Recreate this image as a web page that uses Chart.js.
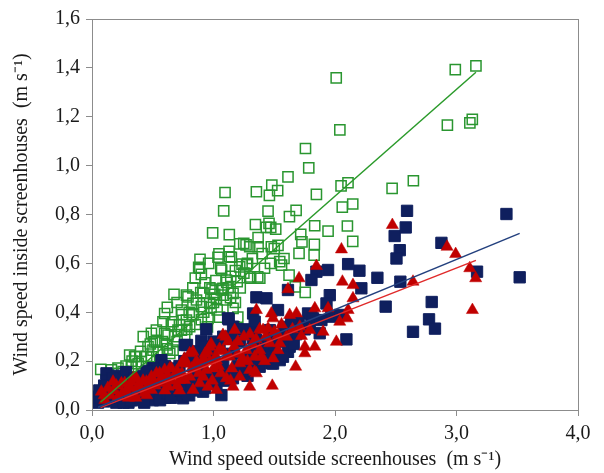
<!DOCTYPE html>
<html>
<head>
<meta charset="utf-8">
<title>Wind speed inside vs outside screenhouses</title>
<script src="https://cdn.jsdelivr.net/npm/chart.js@4.4.0/dist/chart.umd.min.js"></script>
<style>
  html, body { margin: 0; padding: 0; background: #fff; }
  #wrap { width: 604px; height: 473px; }
</style>
</head>
<body>
<div id="wrap"><canvas id="chart"></canvas></div>
<script>
// axis ticks
const xTicks = [0, 1, 2, 3, 4];
const yTicks = [0, 0.2, 0.4, 0.6, 0.8, 1.0, 1.2, 1.4, 1.6];

// series 1: open green squares [outside, inside]
const greenPts = [
  [2.01,1.359],[2.04,1.146],[2.99,1.393],[3.16,1.408],[2.925,1.166],[3.11,1.175],[3.13,1.189],
  [1.757,1.070],[1.784,0.991],[1.613,0.954],[1.48,0.920],[1.528,0.898],[1.46,0.878],[1.353,0.893],
  [1.847,0.882],[2.05,0.917],[2.107,0.930],[2.47,0.907],[2.645,0.938],[2.06,0.830],[2.146,0.843],
  [1.449,0.814],[1.68,0.817],[1.625,0.791],[1.095,0.890],[1.084,0.815],
  [0.993,0.725],[1.13,0.718],[1.216,0.680],[1.268,0.676],[1.045,0.639],[1.037,0.625],[1.128,0.649],
  [1.147,0.625],[0.889,0.616],[0.878,0.584],[0.900,0.555],[1.067,0.573],[1.216,0.586],[1.235,0.597],
  [1.273,0.594],[1.306,0.539],[1.364,0.545],[1.142,0.547],[1.109,0.522],[0.675,0.473],[0.777,0.470],
  [0.895,0.480],[0.988,0.495],[1.010,0.473],[1.078,0.498],
  [1.345,0.759],[1.457,0.764],[1.471,0.747],[1.435,0.747],[1.512,0.740],[1.833,0.754],[1.943,0.732],
  [2.102,0.753],[2.146,0.690],[1.718,0.719],[1.728,0.688],[1.830,0.678],[1.249,0.682],[1.367,0.705],
  [1.367,0.668],[1.531,0.674],[1.704,0.641],[1.828,0.634],[1.545,0.607],[1.622,0.552],[1.560,0.593],
  [1.469,0.600],[1.381,0.539],[1.755,0.481],[1.673,0.504],[1.298,0.668],[1.476,0.668],
  [0.887,0.580],[1.133,0.627],[1.298,0.545],[1.195,0.525],[1.106,0.532],[1.065,0.491],[0.914,0.477],
  [0.790,0.463],[0.598,0.395],[0.736,0.409],[0.667,0.361],[0.584,0.361],[0.530,0.327],[0.831,0.436],
  [0.900,0.423],[0.969,0.436],[1.024,0.457],[1.106,0.450],[1.161,0.477],[1.161,0.416],[0.831,0.389],
  [0.777,0.368],[0.736,0.327],[0.626,0.307],[0.530,0.279],[0.502,0.245],[0.612,0.266],[0.667,0.245],
  [0.557,0.204],[0.804,0.341],[0.955,0.375],[0.489,0.314],
  [0.422,0.300],[0.461,0.259],[0.516,0.279],[0.598,0.314],[0.653,0.348],[0.708,0.327],[0.763,0.307],
  [0.351,0.218],[0.489,0.218],[0.310,0.225],[0.406,0.198],[0.256,0.157],[0.160,0.164],[0.214,0.171],
  [0.324,0.177],[0.448,0.177],[0.502,0.164],[0.571,0.204],[0.640,0.232],[0.072,0.166],
  [0.12,0.12],[0.20,0.13],[0.27,0.12],[0.30,0.15],[0.38,0.19],[1.17,0.34],[1.20,0.38],[1.05,0.38],
  [0.85,0.54],[0.96,0.60],[1.00,0.44],
  [0.62,0.42],[0.70,0.44],[0.74,0.39],[0.80,0.40],[0.86,0.45],[0.92,0.40],[0.98,0.42],[1.03,0.41],
  [1.08,0.47],[1.12,0.50],[1.14,0.46],[1.18,0.44],[1.22,0.50],[1.25,0.56],[1.28,0.60],[0.93,0.52],
  [0.97,0.50],[1.02,0.53],[0.83,0.50],[0.72,0.35],[0.78,0.33],[0.85,0.35],[0.90,0.37],[0.95,0.34],
  [0.68,0.30],[0.58,0.28],[0.55,0.24],[0.45,0.22],[0.40,0.24],[0.36,0.22],[0.33,0.20],[0.28,0.18],
  [0.22,0.15],[0.48,0.27],[0.62,0.25],[0.70,0.28],[1.06,0.58],[1.18,0.57],[1.32,0.62],[1.40,0.64],
  [1.42,0.58],[1.50,0.66],[1.58,0.62]
];

// series 2: filled navy squares
const navyPts = [
  [2.593,0.815],[3.411,0.802],[2.582,0.747],[2.491,0.712],[2.533,0.654],[2.506,0.620],[2.876,0.684],
  [3.169,0.566],[3.520,0.543],[2.538,0.525],[2.349,0.541],[2.417,0.423],[2.796,0.442],[2.774,0.371],
  [2.823,0.333],[2.642,0.320],[2.217,0.498],[2.201,0.570],[2.108,0.597],[1.943,0.573],[1.847,0.566],
  [1.806,0.532],[1.957,0.470],[1.930,0.436],[2.094,0.289],[1.353,0.461],[1.436,0.457],[1.613,0.491],
  [1.531,0.409],[1.326,0.395],[1.806,0.389],[1.888,0.368],[1.970,0.382],[1.792,0.341],[1.874,0.314],
  [2.039,0.389],[1.339,0.314],[1.463,0.327],[1.600,0.286],[1.613,0.238],[1.545,0.204],[1.476,0.191],
  [1.380,0.177],[1.778,0.395],[1.819,0.375],[1.339,0.361],[1.298,0.314],[1.353,0.286],[1.627,0.259],
  [1.572,0.218],[1.125,0.371],[0.941,0.330],[0.782,0.266],[0.900,0.283],[0.571,0.204],[0.502,0.171],
  [1.161,0.341],[1.325,0.293],[0.749,0.048],[0.914,0.075],[1.024,0.109],[1.065,0.061],[0.612,0.089],
  [0.530,0.054],[0.763,0.266],[0.036,0.054],[0.03,0.041],[0.119,0.150],[0.20,0.14],[0.28,0.155],
  [1.12,0.375],[1.38,0.204],[1.49,0.19],
  [0.05,0.03],[0.08,0.06],[0.10,0.035],[0.12,0.09],[0.15,0.04],[0.18,0.07],[0.20,0.03],[0.22,0.10],
  [0.25,0.05],[0.28,0.08],[0.30,0.03],[0.33,0.12],[0.35,0.06],[0.38,0.04],[0.40,0.09],[0.42,0.14],
  [0.45,0.05],[0.48,0.11],[0.50,0.04],[0.55,0.07],[0.58,0.12],[0.60,0.05],[0.63,0.15],[0.66,0.08],
  [0.70,0.06],[0.72,0.18],[0.75,0.11],[0.78,0.07],[0.80,0.21],[0.84,0.13],[0.86,0.08],[0.90,0.17],
  [0.95,0.12],[0.98,0.22],[1.02,0.15],[1.05,0.26],[1.08,0.19],[1.10,0.12],[1.15,0.23],[1.18,0.16],
  [1.22,0.28],[1.25,0.20],[1.28,0.14],[1.30,0.24],[1.42,0.23],[1.45,0.28],[1.50,0.25],[1.55,0.30],
  [1.58,0.34],[1.68,0.31],[1.70,0.36],[1.66,0.27],[1.75,0.33],[1.20,0.33],[1.00,0.28],[0.88,0.24],
  [0.60,0.18],[0.45,0.16],[0.35,0.13],[0.25,0.12],
  [0.07,0.05],[0.10,0.07],[0.13,0.05],[0.16,0.08],[0.19,0.05],[0.23,0.07],[0.26,0.03],[0.29,0.06],
  [0.32,0.04],[0.36,0.08],[0.40,0.05],[0.43,0.03],[0.47,0.07],[0.52,0.06],[0.56,0.04],[0.62,0.07],
  [0.65,0.05],[0.68,0.09],[0.73,0.08],[0.80,0.06],[0.82,0.10],[0.88,0.11],[0.93,0.09],[0.97,0.14],
  [1.00,0.11],[1.04,0.13],[1.12,0.15],[1.16,0.13],[1.20,0.18],[1.24,0.16],[1.30,0.19],[1.34,0.21],
  [1.40,0.25],[1.47,0.22],[1.52,0.28],[1.60,0.32],[1.64,0.36],[0.12,0.12],[0.17,0.13],[0.30,0.10],
  [0.38,0.11],[0.52,0.14],[0.68,0.17],[0.76,0.20],[0.85,0.22],[0.93,0.26],[1.08,0.30],[1.15,0.30],
  [1.25,0.33],[0.10,0.10],[0.06,0.08]
];

// series 3: filled red triangles
const redPts = [
  [2.472,0.757],[2.922,0.668],[2.993,0.638],[3.109,0.580],[3.158,0.539],[3.131,0.409],[2.642,0.525],
  [2.053,0.657],[1.847,0.589],[1.704,0.539],[1.613,0.494],[2.061,0.525],[2.148,0.511],[2.148,0.457],
  [2.108,0.409],[2.099,0.375],[2.039,0.361],[2.011,0.279],[1.943,0.416],[1.834,0.416],[1.902,0.320],
  [1.834,0.259],[1.752,0.259],[1.752,0.232],[1.683,0.395],[1.627,0.389],[1.710,0.341],[1.792,0.327],
  [1.676,0.177],[1.484,0.099],[1.353,0.409],[1.476,0.395],[1.490,0.375],[1.531,0.307],[1.449,0.334],
  [1.545,0.273],[1.463,0.273],[1.339,0.157],[1.394,0.218],[1.408,0.327],[1.724,0.303],[1.531,0.245],
  [1.380,0.245],[1.339,0.218],[1.353,0.150],[1.490,0.211],
  [1.174,0.327],[1.078,0.307],[0.969,0.259],[0.831,0.238],[0.736,0.191],[0.653,0.170],[0.557,0.150],
  [1.270,0.245],[1.216,0.191],[1.106,0.218],[1.024,0.204],[0.941,0.164],[1.298,0.164],[1.216,0.136],
  [1.106,0.130],[0.914,0.136],[0.804,0.136],[0.722,0.123],[0.955,0.095],[0.887,0.109],[1.161,0.095],
  [1.298,0.095],[1.024,0.082],[0.831,0.082],
  [0.077,0.075],[0.173,0.116],[0.242,0.109],[0.324,0.116],[0.365,0.130],[0.448,0.116],[0.489,0.136],
  [0.598,0.164],[0.640,0.170],[0.804,0.232],[0.105,0.041],[0.214,0.054],[0.351,0.061],[0.489,0.082],
  [0.626,0.095],[0.763,0.123],
  [0.15,0.06],[0.28,0.08],[0.40,0.09],[0.55,0.11],[0.68,0.14],[0.85,0.18],[0.92,0.21],[1.00,0.17],
  [1.05,0.25],[1.12,0.28],[1.20,0.23],[1.25,0.30],[0.98,0.27],[0.78,0.19],[0.60,0.12],[0.43,0.07],
  [0.30,0.05],[0.52,0.10],[0.70,0.10],[0.88,0.15],[1.15,0.17],[1.32,0.27],[1.42,0.20],[0.95,0.24],
  [1.10,0.30],
  [0.10,0.06],[0.13,0.09],[0.18,0.08],[0.20,0.10],[0.25,0.07],[0.27,0.11],[0.32,0.09],[0.34,0.13],
  [0.38,0.10],[0.42,0.12],[0.45,0.09],[0.50,0.12],[0.53,0.15],[0.57,0.13],[0.62,0.14],[0.66,0.12],
  [0.70,0.16],[0.74,0.15],[0.76,0.21],[0.82,0.17],[0.86,0.20],[0.90,0.19],[0.93,0.23],[0.97,0.20],
  [1.02,0.22],[1.04,0.18],[1.08,0.24],[1.13,0.22],[1.17,0.26],[1.20,0.28],[1.24,0.21],[1.28,0.20],
  [1.30,0.31],[1.35,0.29],[1.38,0.33],[1.43,0.30],[1.50,0.32],[1.56,0.35],[1.60,0.30],[1.65,0.33],
  [0.99,0.12],[1.06,0.15],[1.14,0.12],[0.60,0.08],[0.72,0.08],[0.45,0.06],[0.36,0.05]
];

// linear fits: y = slope * x + intercept, drawn over [xFrom, xTo]
const fitSlope = [0.437, 0.205, 0.195];
const fitIntercept = [0.001, 0.001, -0.004];
const fitFrom = [0.07, 0.05, 0.07];
const fitTo = [3.16, 3.52, 3.16];

const GREEN = '#2a9630';
const NAVY = '#0f1f5e';
const RED = '#c00000';
const lineColors = ['#2a9a2a', '#23407e', '#e02a2a'];

const toXY = pts => pts.map(p => ({ x: p[0], y: p[1] }));
const fitLine = i => [fitFrom[i], fitTo[i]].map(x => ({ x: x, y: fitSlope[i] * x + fitIntercept[i] }));
const comma = v => Number(v).toFixed(1).replace('.', ',');

const SERIF = "'Liberation Serif', 'Times New Roman', serif";

// grey frame round the plot area
const frame = {
  id: 'frame',
  afterDatasetsDraw(chart) {
    const a = chart.chartArea;
    const ctx = chart.ctx;
    ctx.save();
    ctx.strokeStyle = '#8c8c8c';
    ctx.lineWidth = 1;
    ctx.strokeRect(Math.round(a.left) + 0.5, Math.round(a.top) + 0.5,
      Math.round(a.right - a.left), Math.round(a.bottom - a.top));
    ctx.restore();
  }
};

const lineDs = (i) => ({
  type: 'line',
  data: fitLine(i),
  borderColor: lineColors[i],
  borderWidth: 1.5,
  pointRadius: 0,
  fill: false,
  order: 0
});

new Chart(document.getElementById('chart'), {
  type: 'scatter',
  data: {
    datasets: [
      lineDs(0), lineDs(1), lineDs(2),
      {
        label: 'red',
        data: toXY(redPts),
        pointStyle: 'triangle',
        pointRadius: 7,
        backgroundColor: RED,
        borderColor: RED,
        borderWidth: 0.5,
        order: 1
      },
      {
        label: 'navy',
        data: toXY(navyPts),
        pointStyle: 'rect',
        pointRadius: 8,
        backgroundColor: NAVY,
        borderColor: NAVY,
        borderWidth: 1,
        order: 2
      },
      {
        label: 'green',
        data: toXY(greenPts),
        pointStyle: 'rect',
        pointRadius: 7.2,
        backgroundColor: 'rgba(0,0,0,0)',
        borderColor: GREEN,
        borderWidth: 1.5,
        order: 3
      }
    ]
  },
  options: {
    responsive: true,
    maintainAspectRatio: false,
    animation: false,
    layout: { padding: { top: 19, right: 26, left: 0, bottom: 0 } },
    plugins: {
      legend: { display: false },
      tooltip: { enabled: false }
    },
    scales: {
      x: {
        type: 'linear',
        min: xTicks[0],
        max: xTicks[xTicks.length - 1],
        afterBuildTicks: s => { s.ticks = xTicks.map(v => ({ value: v })); },
        afterFit: s => { s.height = 63; },
        grid: { drawOnChartArea: false, drawTicks: true, tickLength: 6, color: '#8c8c8c' },
        border: { color: '#8c8c8c' },
        ticks: {
          padding: 6,
          color: '#1a1a1a',
          font: { family: SERIF, size: 20 },
          callback: v => comma(v)
        },
        title: {
          display: true,
          text: 'Wind speed outside screenhouses  (m s\u207B\u00B9)',
          color: '#1a1a1a',
          font: { family: SERIF, size: 20 },
          padding: { top: 0, bottom: 1 }
        }
      },
      y: {
        type: 'linear',
        min: yTicks[0],
        max: yTicks[yTicks.length - 1],
        afterBuildTicks: s => { s.ticks = yTicks.map(v => ({ value: v })); },
        afterFit: s => { s.width = 92; },
        grid: { drawOnChartArea: false, drawTicks: true, tickLength: 6, color: '#8c8c8c' },
        border: { color: '#8c8c8c' },
        ticks: {
          padding: 6,
          color: '#1a1a1a',
          font: { family: SERIF, size: 20 },
          callback: v => comma(v)
        },
        title: {
          display: true,
          text: 'Wind speed inside screenhouses  (m s\u207B\u00B9)',
          color: '#1a1a1a',
          font: { family: SERIF, size: 20 },
          padding: { top: 10, bottom: 0 }
        }
      }
    }
  },
  plugins: [frame]
});
</script>
</body>
</html>
